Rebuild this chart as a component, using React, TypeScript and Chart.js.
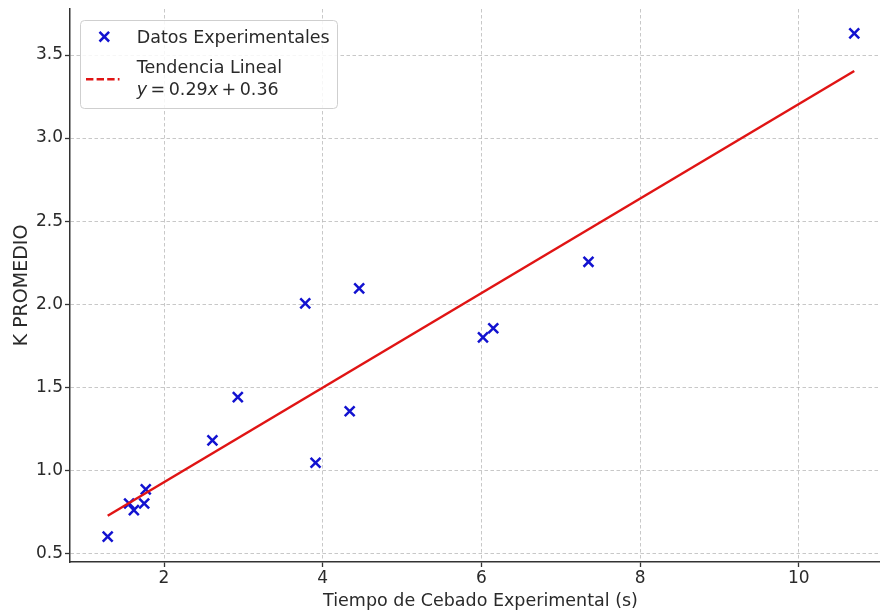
import React, { useEffect, useRef } from 'react';
import { Chart, registerables } from 'chart.js';

Chart.register(...registerables);

// ---- data ----
const expX = [1.29, 1.56, 1.62, 1.75, 1.77, 2.61, 2.93, 3.78, 3.91, 4.34, 4.46, 6.02, 6.15, 7.35, 10.7];
const expY = [0.6, 0.8, 0.76, 0.8, 0.885, 1.18, 1.44, 2.005, 1.045, 1.355, 2.095, 1.8, 1.855, 2.255, 3.63];
const trendX = [1.29, 10.7];
const trendY = [0.726, 3.404];
const xTicks = [2, 4, 6, 8, 10];
const yTicks = [0.5, 1.0, 1.5, 2.0, 2.5, 3.0, 3.5];
const legendLabels = ['Datos Experimentales', 'Tendencia Lineal'];
const equationParts = ['y', '\u2009=\u20090.29', 'x', '\u2009+\u20090.36'];
const equationItalic = [true, false, true, false];
const xTitle = 'Tiempo de Cebado Experimental (s)';
const yTitle = 'K PROMEDIO';

const FONT = '"DejaVu Sans", Verdana, sans-serif';
const TEXT = '#2a2a2a';
const BLUE = '#1212d0';
const RED = '#e01414';

// The original axes extend slightly past the right edge of the 880px picture.
const CANVAS_W = 891;
const CANVAS_H = 613;

const legendPlugin = {
  id: 'customLegend',
  afterDraw(chart: any) {
    const ctx: CanvasRenderingContext2D = chart.ctx;
    ctx.save();
    // frame
    const bx = 80.5, by = 20.5, bw = 257, bh = 88;
    ctx.beginPath();
    (ctx as any).roundRect(bx, by, bw, bh, 4);
    ctx.fillStyle = 'rgba(255,255,255,0.85)';
    ctx.fill();
    ctx.strokeStyle = '#cfcfcf';
    ctx.lineWidth = 1;
    ctx.stroke();

    // cross marker
    const cx = 104.3, cy = 36.7, h = 4.8;
    ctx.strokeStyle = BLUE;
    ctx.lineWidth = 2.5;
    ctx.beginPath();
    ctx.moveTo(cx - h, cy - h); ctx.lineTo(cx + h, cy + h);
    ctx.moveTo(cx + h, cy - h); ctx.lineTo(cx - h, cy + h);
    ctx.stroke();

    // dashed line
    ctx.strokeStyle = RED;
    ctx.lineWidth = 2.5;
    ctx.setLineDash([7.4, 3.2]);
    ctx.beginPath();
    ctx.moveTo(86, 79.3); ctx.lineTo(119.5, 79.3);
    ctx.stroke();
    ctx.setLineDash([]);

    // texts
    ctx.fillStyle = TEXT;
    ctx.textBaseline = 'alphabetic';
    ctx.textAlign = 'left';
    ctx.font = `17.5px ${FONT}`;
    const tx = 136.7;
    ctx.fillText(legendLabels[0], tx, 43.3);
    ctx.fillText(legendLabels[1], tx, 72.5);
    let x = tx;
    for (let i = 0; i < equationParts.length; i++) {
      ctx.font = `${equationItalic[i] ? 'italic ' : ''}17.5px ${FONT}`;
      ctx.fillText(equationParts[i], x, 95);
      x += ctx.measureText(equationParts[i]).width;
    }
    ctx.restore();
  },
};

export default function App() {
  const ref = useRef<HTMLCanvasElement | null>(null);

  useEffect(() => {
    document.body.style.margin = '0';
    document.body.style.overflow = 'hidden';
    const canvas = ref.current;
    if (!canvas) return;
    const gridCommon = {
      color: 'rgba(170,170,170,0.65)',
      lineWidth: 1,
      tickColor: '#333',
      tickBorderDash: [],
      tickLength: 5,
      tickWidth: 1.3,
    };
    const borderCommon = { display: true, color: '#333', width: 1.5, dash: [3.5, 2.5] };
    const chart = new Chart(canvas, {
      type: 'scatter',
      data: {
        datasets: [
          {
            label: legendLabels[1],
            data: trendX.map((x, i) => ({ x, y: trendY[i] })),
            showLine: true,
            borderColor: RED,
            backgroundColor: RED,
            borderWidth: 2.5,
            pointRadius: 0,
            order: 0,
          } as any,
          {
            label: legendLabels[0],
            data: expX.map((x, i) => ({ x, y: expY[i] })),
            showLine: false,
            pointStyle: 'crossRot',
            pointRadius: 7,
            pointBorderWidth: 2.5,
            borderColor: BLUE,
            backgroundColor: BLUE,
            order: 1,
          } as any,
        ],
      },
      options: {
        animation: false,
        responsive: false,
        devicePixelRatio: 1,
        layout: { autoPadding: false, padding: { top: 9, right: 0, left: 0, bottom: 0 } },
        plugins: { legend: { display: false }, tooltip: { enabled: false } },
        scales: {
          x: {
            type: 'linear',
            position: 'bottom',
            min: 0.815,
            max: 11.163,
            afterBuildTicks: (s: any) => {
              s.ticks = xTicks.map((v) => ({ value: v }));
            },
            afterFit: (s: any) => {
              s.height = 51;
              s.paddingLeft = 0;
              s.paddingRight = 0;
            },
            ticks: {
              callback: (v: any) => String(v),
              font: { family: FONT, size: 17 },
              color: TEXT,
              padding: 1,
              maxRotation: 0,
              autoSkip: false,
            },
            grid: gridCommon,
            border: borderCommon,
            title: {
              display: true,
              text: xTitle,
              color: TEXT,
              font: { family: FONT, size: 17.5 },
              padding: { top: 0, bottom: 1.5 },
            },
          },
          y: {
            type: 'linear',
            position: 'left',
            min: 0.4476,
            max: 3.777,
            afterBuildTicks: (s: any) => {
              s.ticks = yTicks.map((v) => ({ value: v }));
            },
            afterFit: (s: any) => {
              s.width = 70;
              s.paddingTop = 0;
              s.paddingBottom = 0;
            },
            ticks: {
              callback: (v: any) => Number(v).toFixed(1),
              font: { family: FONT, size: 17 },
              color: TEXT,
              padding: 2,
              autoSkip: false,
            },
            grid: gridCommon,
            border: borderCommon,
            title: {
              display: true,
              text: yTitle,
              color: TEXT,
              font: { family: FONT, size: 19 },
              padding: { top: 10.6, bottom: 0 },
            },
          },
        },
      } as any,
      plugins: [legendPlugin],
    });
    return () => chart.destroy();
  }, []);

  return (
    <div style={{ position: 'absolute', left: 0, top: 0, width: 880, height: 613, overflow: 'hidden' }}>
      <canvas
        ref={ref}
        width={CANVAS_W}
        height={CANVAS_H}
        style={{ width: CANVAS_W, height: CANVAS_H, display: 'block' }}
      />
    </div>
  );
}
